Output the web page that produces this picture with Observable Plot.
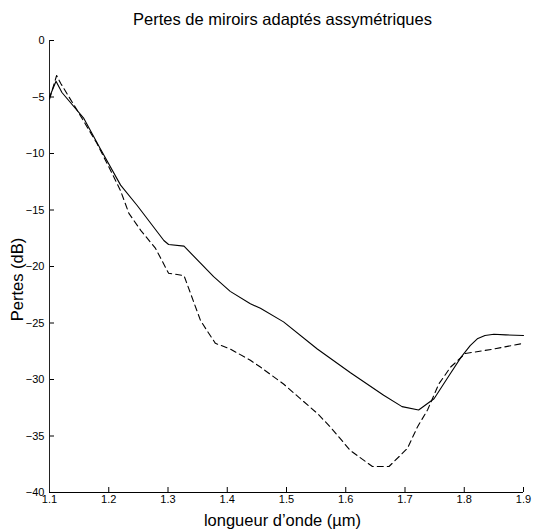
<!DOCTYPE html>
<html>
<head>
<meta charset="utf-8">
<script src="https://cdn.jsdelivr.net/npm/d3@7"></script>
<script src="https://cdn.jsdelivr.net/npm/@observablehq/plot@0.6"></script>
<style>
  html, body { margin: 0; padding: 0; background: #fff; }
  svg { font-family: "Liberation Sans", Arial, Helvetica, sans-serif; }
</style>
</head>
<body>
<div id="chart"></div>
<script>
const title = "Pertes de miroirs adaptés assymétriques";
const xLabel = "longueur d’onde (µm)";
const yLabel = "Pertes (dB)";
const xTicks = [1.1, 1.2, 1.3, 1.4, 1.5, 1.6, 1.7, 1.8, 1.9];
const yTicks = [0, -5, -10, -15, -20, -25, -30, -35, -40];

const solidX = [1.100, 1.111, 1.121, 1.158, 1.186, 1.220, 1.248, 1.293, 1.301, 1.327, 1.377, 1.405, 1.439, 1.456, 1.495, 1.552, 1.608, 1.664, 1.695, 1.723, 1.749, 1.775, 1.795, 1.810, 1.822, 1.835, 1.850, 1.870, 1.900];
const solidY = [-5.0, -3.6, -4.6, -6.9, -9.6, -12.8, -14.6, -17.7, -18.05, -18.2, -20.9, -22.2, -23.3, -23.7, -24.9, -27.3, -29.4, -31.4, -32.4, -32.7, -31.7, -29.6, -28.0, -27.0, -26.4, -26.1, -26.0, -26.05, -26.1];

const dashX = [1.100, 1.112, 1.119, 1.147, 1.180, 1.206, 1.220, 1.234, 1.254, 1.279, 1.301, 1.327, 1.355, 1.380, 1.405, 1.439, 1.456, 1.495, 1.552, 1.574, 1.608, 1.645, 1.673, 1.704, 1.721, 1.738, 1.757, 1.777, 1.802, 1.850, 1.900];
const dashY = [-5.2, -3.1, -3.8, -6.2, -9.1, -11.8, -13.3, -15.3, -16.8, -18.4, -20.6, -20.8, -24.8, -26.8, -27.3, -28.3, -28.9, -30.4, -33.0, -34.2, -36.3, -37.7, -37.7, -36.1, -34.2, -32.7, -30.4, -28.9, -27.7, -27.3, -26.8];

const solid = solidX.map((x, i) => ({x, y: solidY[i]}));
const dashed = dashX.map((x, i) => ({x, y: dashY[i]}));

const W = 534, H = 532, ML = 49, MR = 11, MT = 40, MB = 40;
const frameW = W - ML - MR, frameH = H - MT - MB, tickLen = 5;

const chart = Plot.plot({
  width: W,
  height: H,
  marginLeft: ML,
  marginRight: MR,
  marginTop: MT,
  marginBottom: MB,
  style: {fontFamily: "'Liberation Sans', Arial, sans-serif", fontSize: "11px", background: "#fff", color: "#000"},
  x: {domain: [1.1, 1.9]},
  y: {domain: [-40, 0]},
  marks: [
    // tick labels
    Plot.axisX({ticks: xTicks, tickSize: 0, tickPadding: 3, label: null, fontSize: 11}),
    Plot.axisY({ticks: yTicks, tickSize: 0, tickPadding: 5, label: null, fontSize: 11}),
    // inward tick marks
    Plot.tickX(xTicks, {x: d => d, insetTop: frameH - tickLen, stroke: "#000", strokeWidth: 1}),
    Plot.tickY(yTicks, {y: d => d, insetRight: frameW - tickLen, stroke: "#000", strokeWidth: 1}),
    Plot.ruleX([1.1], {stroke: "#222", strokeWidth: 1}),
    Plot.ruleY([-40], {stroke: "#000", strokeWidth: 1}),
    Plot.line(solid, {x: "x", y: "y", stroke: "#000", strokeWidth: 1.1}),
    Plot.line(dashed, {x: "x", y: "y", stroke: "#000", strokeWidth: 1.1, strokeDasharray: "6,4"}),
    Plot.text([title], {frameAnchor: "top", textAnchor: "middle", lineAnchor: "middle", dx: -4, dy: -21, fontSize: 16.5, fill: "#000"}),
    Plot.text([xLabel], {frameAnchor: "bottom", textAnchor: "middle", lineAnchor: "middle", dx: -4, dy: 28, fontSize: 16.5, fill: "#000"}),
    Plot.text([yLabel], {frameAnchor: "left", textAnchor: "middle", lineAnchor: "middle", dx: -32, dy: 13, rotate: -90, fontSize: 16.5, fill: "#000"})
  ]
});
document.getElementById("chart").appendChild(chart);
</script>
</body>
</html>
